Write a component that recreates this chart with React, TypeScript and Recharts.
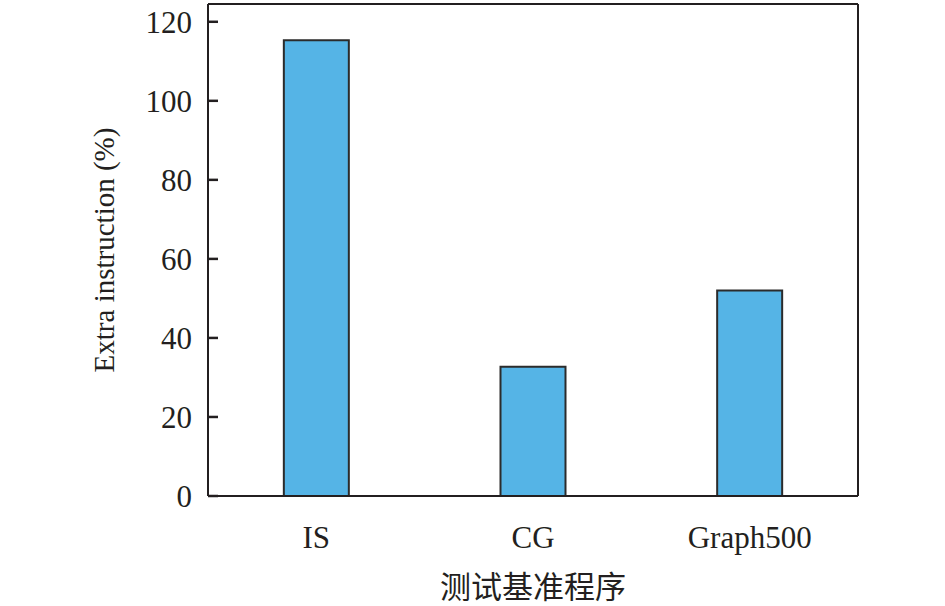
import React from "react";
import { BarChart, Bar, XAxis, YAxis } from "recharts";

const benchmarks = ["IS", "CG", "Graph500"];
const extraInstruction = [115.3, 32.7, 52.0];
const yTicks = [0, 20, 40, 60, 80, 100, 120];

const data = benchmarks.map((name, i) => ({ name, extra: extraInstruction[i] }));

const serif = '"Liberation Serif", "Times New Roman", serif';
const ink = "#231f20";

// y ticks point into the plot, like the source figure
const YTick = (props: any) => {
  const { x, y, payload } = props;
  const axisX = x + 16;
  return (
    <g>
      <path d={`M${axisX},${y}h10`} stroke={ink} strokeWidth={2.5} />
      <text x={x} y={y} dy={11} textAnchor="end" fontSize={31} fontFamily={serif} fill={ink}>
        {payload.value}
      </text>
    </g>
  );
};

const XTick = (props: any) => {
  const { x, y, payload } = props;
  return (
    <text x={x} y={y + 52} textAnchor="middle" fontSize={31} fontFamily={serif} fill={ink}>
      {payload.value}
    </text>
  );
};

export default function App() {
  return (
    <div style={{ position: "absolute", left: 0, top: 0, background: "#fff" }}>
      <BarChart
        width={945}
        height={606}
        data={data}
        margin={{ top: 3, right: 86, left: 0, bottom: 0 }}
        barCategoryGap="35%"
      >
        <XAxis
          dataKey="name"
          height={110}
          tickLine={false}
          tickSize={0}
          tickMargin={0}
          axisLine={{ stroke: ink, strokeWidth: 2 }}
          tick={<XTick />}
          label={{
            value: "测试基准程序",
            position: "insideBottom",
            offset: 8,
            fontSize: 31,
            fill: ink,
            fontFamily: '"Noto Sans CJK SC", sans-serif',
          }}
        />
        <XAxis
          xAxisId="top"
          orientation="top"
          dataKey="name"
          height={1}
          tick={false}
          tickLine={false}
          axisLine={{ stroke: ink, strokeWidth: 2 }}
        />
        <YAxis
          width={208}
          domain={[0, 124.5]}
          ticks={yTicks}
          interval={0}
          tickLine={false}
          tickSize={0}
          tickMargin={16}
          axisLine={{ stroke: ink, strokeWidth: 2 }}
          tick={<YTick />}
          label={{
            value: "Extra instruction (%)",
            angle: -90,
            position: "center",
            dx: 0,
            fontSize: 29,
            fill: ink,
            fontFamily: serif,
          }}
        />
        <YAxis
          yAxisId="right"
          orientation="right"
          width={1}
          domain={[0, 124.5]}
          tick={false}
          tickLine={false}
          axisLine={{ stroke: ink, strokeWidth: 2 }}
        />
        <Bar
          dataKey="extra"
          fill="#55b4e6"
          stroke="#2b2b2b"
          strokeWidth={2}
          isAnimationActive={false}
        />
      </BarChart>
    </div>
  );
}
